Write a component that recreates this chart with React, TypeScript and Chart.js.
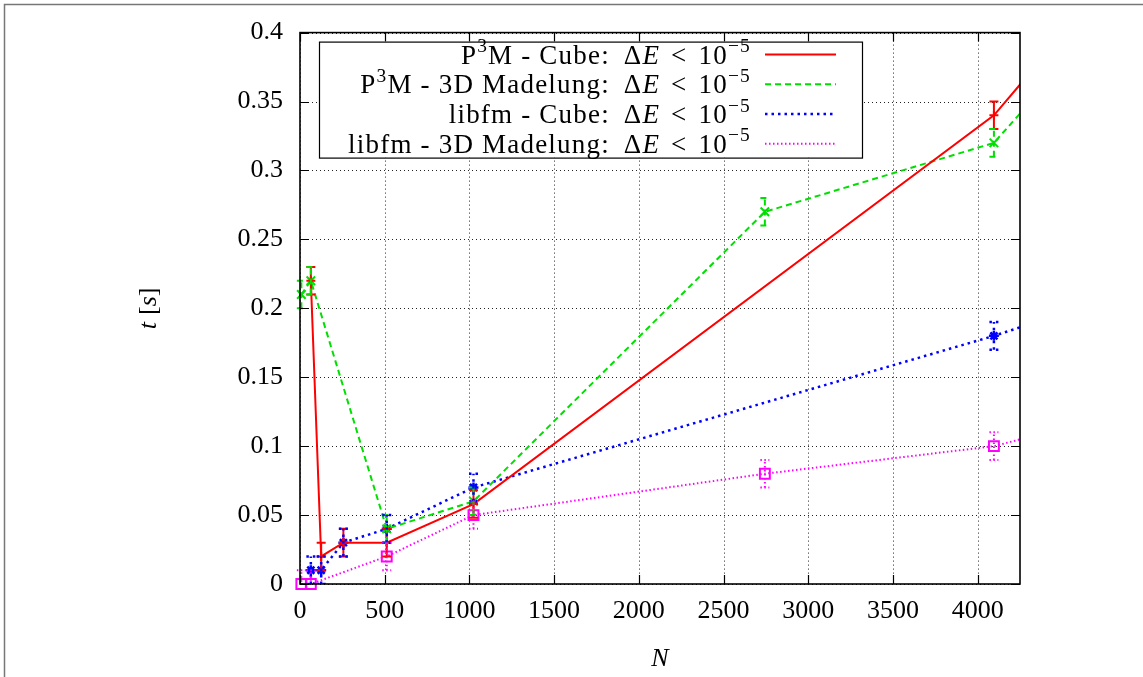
import React, { useEffect, useRef } from "react";
import { Chart, registerables } from "chart.js";

Chart.register(...registerables);

// ---- Axis ticks ----
const xTickValues = [0, 500, 1000, 1500, 2000, 2500, 3000, 3500, 4000];
const yTickValues = [0, 0.05, 0.1, 0.15, 0.2, 0.25, 0.3, 0.35, 0.4];
const yTickLabels = ["0", "0.05", "0.1", "0.15", "0.2", "0.25", "0.3", "0.35", "0.4"];

// ---- Series: P3M - Cube ----
const p3mCubeN = [64, 125, 256, 512, 1024, 4096, 4913];
const p3mCubeT = [0.22, 0.02, 0.03, 0.03, 0.058, 0.34, 0.458];
const p3mCubeErr = [0.01, 0.01, 0.01, 0.01, 0.01, 0.01, 0.01];

// ---- Series: P3M - 3D Madelung ----
const p3mMadN = [8, 64, 512, 1024, 2744, 4096, 4913];
const p3mMadT = [0.21, 0.22, 0.04, 0.06, 0.27, 0.32, 0.433];
const p3mMadErr = [0.01, 0.01, 0.01, 0.01, 0.01, 0.01, 0.01];

// ---- Series: libfm - Cube ----
const libfmCubeN = [64, 125, 256, 512, 1024, 4096, 4913];
const libfmCubeT = [0.01, 0.01, 0.03, 0.04, 0.07, 0.18, 0.213];
const libfmCubeErr = [0.01, 0.01, 0.01, 0.01, 0.01, 0.01, 0.01];

// ---- Series: libfm - 3D Madelung ----
const libfmMadN = [8, 64, 512, 1024, 2744, 4096, 4913];
const libfmMadT = [0, 0, 0.02, 0.05, 0.08, 0.1, 0.126];
const libfmMadErr = [0.01, 0.01, 0.01, 0.01, 0.01, 0.01, 0.01];

type Piece = { t: string; it?: boolean; sup?: boolean; gap?: number };

const mathTail: Piece[] = [
  { t: "", gap: 14 },
  { t: "Δ" },
  { t: "E", it: true },
  { t: "", gap: 11 },
  { t: "<" },
  { t: "", gap: 11 },
  { t: "10" },
  { t: "−5", sup: true },
];
const legendLabels: Piece[][] = [
  [{ t: "P" }, { t: "3", sup: true }, { t: "M - Cube:" }, ...mathTail],
  [{ t: "P" }, { t: "3", sup: true }, { t: "M - 3D Madelung:" }, ...mathTail],
  [{ t: "libfm - Cube:" }, ...mathTail],
  [{ t: "libfm - 3D Madelung:" }, ...mathTail],
];
const yTitle: Piece[] = [{ t: "t", it: true }, { t: "", gap: 7 }, { t: "[" }, { t: "s", it: true }, { t: "]" }];
const xTitle: Piece[] = [{ t: "N", it: true }];

const FONT = '"Liberation Serif", "DejaVu Serif", serif';
const FS = 26;
const LEGEND_FS = 27;

function setFont(ctx: CanvasRenderingContext2D, p: Piece, size: number) {
  const s = p.sup ? size * 0.72 : size;
  ctx.font = `${p.it ? "italic " : ""}${s}px ${FONT}`;
}
function pieceWidth(ctx: CanvasRenderingContext2D, p: Piece, size: number) {
  if (p.gap) return p.gap;
  setFont(ctx, p, size);
  return ctx.measureText(p.t).width;
}
function drawRich(ctx: CanvasRenderingContext2D, pieces: Piece[], x: number, yMid: number, size: number, align: "right" | "center") {
  let w = 0;
  for (const p of pieces) w += pieceWidth(ctx, p, size);
  let cx = align === "right" ? x - w : x - w / 2;
  const base = yMid + size * 0.33;
  ctx.textAlign = "left";
  ctx.textBaseline = "alphabetic";
  for (const p of pieces) {
    const pw = pieceWidth(ctx, p, size);
    if (!p.gap) {
      setFont(ctx, p, size);
      ctx.fillText(p.t, cx, p.sup ? base - size * 0.42 : base);
    }
    cx += pw;
  }
}

const seriesErrors = [p3mCubeErr, p3mMadErr, libfmCubeErr, libfmMadErr];

const framePlugin = {
  id: "gnuplotFrame",
  beforeDatasetsDraw(chart: any) {
    const { ctx, chartArea: a, scales } = chart;
    ctx.save();
    ctx.strokeStyle = "#222";
    ctx.lineWidth = 1;
    ctx.setLineDash([1, 3]);
    for (const v of xTickValues) {
      const x = Math.round(scales.x.getPixelForValue(v)) + 0.5;
      ctx.beginPath();
      ctx.moveTo(x, a.top);
      ctx.lineTo(x, a.bottom);
      ctx.stroke();
    }
    for (const v of yTickValues) {
      const y = Math.round(scales.y.getPixelForValue(v)) + 0.5;
      ctx.beginPath();
      ctx.moveTo(a.left, y);
      ctx.lineTo(a.right, y);
      ctx.stroke();
    }
    ctx.restore();
  },
  afterDatasetsDraw(chart: any) {
    const { ctx, chartArea: a, scales } = chart;
    ctx.save();
    ctx.beginPath();
    ctx.rect(a.left - 12, a.top, a.right - a.left + 12, a.bottom - a.top);
    ctx.clip();
    chart.data.datasets.forEach((ds: any, di: number) => {
      const errs = seriesErrors[di];
      ctx.strokeStyle = ds.borderColor;
      ctx.lineWidth = ds.borderWidth;
      ctx.setLineDash(ds.borderDash || []);
      ds.data.forEach((pt: any, i: number) => {
        const e = errs[i];
        const x = scales.x.getPixelForValue(pt.x);
        const y1 = scales.y.getPixelForValue(pt.y - e);
        const y2 = scales.y.getPixelForValue(pt.y + e);
        ctx.beginPath();
        ctx.moveTo(x, y1);
        ctx.lineTo(x, y2);
        ctx.moveTo(x - 4.5, y1);
        ctx.lineTo(x + 4.5, y1);
        ctx.moveTo(x - 4.5, y2);
        ctx.lineTo(x + 4.5, y2);
        ctx.stroke();
      });
    });
    ctx.restore();
  },
  afterDraw(chart: any) {
    const { ctx, chartArea: a, scales } = chart;
    ctx.save();
    ctx.strokeStyle = "#777";
    ctx.lineWidth = 1.5;
    ctx.beginPath();
    ctx.moveTo(4.5, chart.height);
    ctx.lineTo(4.5, 4.5);
    ctx.lineTo(chart.width, 4.5);
    ctx.stroke();

    ctx.strokeStyle = "#000";
    ctx.lineWidth = 1.2;
    for (const v of xTickValues) {
      const x = Math.round(scales.x.getPixelForValue(v)) + 0.5;
      ctx.beginPath();
      ctx.moveTo(x, a.bottom);
      ctx.lineTo(x, a.bottom - 9);
      ctx.moveTo(x, a.top);
      ctx.lineTo(x, a.top + 9);
      ctx.stroke();
    }
    for (const v of yTickValues) {
      const y = Math.round(scales.y.getPixelForValue(v)) + 0.5;
      ctx.beginPath();
      ctx.moveTo(a.left, y);
      ctx.lineTo(a.left + 9, y);
      ctx.moveTo(a.right, y);
      ctx.lineTo(a.right - 9, y);
      ctx.stroke();
    }
    ctx.lineWidth = 1.6;
    ctx.strokeRect(a.left, a.top, a.right - a.left, a.bottom - a.top);

    // legend
    const lx = a.left + 19;
    const ly = a.top + 9;
    const lw = 543;
    const lh = 116;
    ctx.fillStyle = "#fff";
    ctx.fillRect(lx, ly, lw, lh);
    ctx.lineWidth = 1.2;
    ctx.strokeStyle = "#000";
    ctx.strokeRect(lx + 0.5, ly + 0.5, lw, lh);
    (ctx as any).letterSpacing = "1.2px";
    chart.data.datasets.forEach((ds: any, i: number) => {
      const yMid = ly + 13 + i * 29.7;
      ctx.fillStyle = "#000";
      drawRich(ctx, legendLabels[i], lx + 432, yMid, LEGEND_FS, "right");
      ctx.strokeStyle = ds.borderColor;
      ctx.lineWidth = ds.borderWidth;
      ctx.setLineDash(ds.borderDash || []);
      ctx.beginPath();
      ctx.moveTo(lx + 446, yMid);
      ctx.lineTo(lx + 517, yMid);
      ctx.stroke();
      ctx.setLineDash([]);
    });
    (ctx as any).letterSpacing = "0px";

    ctx.fillStyle = "#000";
    drawRich(ctx, xTitle, (a.left + a.right) / 2, 657, FS, "center");
    ctx.translate(147, (a.top + a.bottom) / 2);
    ctx.rotate(-Math.PI / 2);
    drawRich(ctx, yTitle, 0, 0, FS, "center");
    ctx.restore();
  },
};

function pts(xs: number[], ys: number[]) {
  return xs.map((x, i) => ({ x, y: ys[i] }));
}

export default function App() {
  const ref = useRef<HTMLCanvasElement | null>(null);
  useEffect(() => {
    if (!ref.current) return;
    const clip = { left: 12, top: 0, right: 0, bottom: 12 };
    const chart = new Chart(ref.current, {
      type: "line",
      data: {
        datasets: [
          {
            label: "P3M - Cube",
            data: pts(p3mCubeN, p3mCubeT),
            borderColor: "#ff0000",
            backgroundColor: "#ff0000",
            borderWidth: 2,
            pointStyle: "cross",
            pointRadius: 4.5,
            pointBorderWidth: 2,
            clip,
          },
          {
            label: "P3M - 3D Madelung",
            data: pts(p3mMadN, p3mMadT),
            borderColor: "#00e000",
            backgroundColor: "#00e000",
            borderWidth: 2,
            borderDash: [6, 4],
            pointStyle: "crossRot",
            pointRadius: 6,
            pointBorderWidth: 2,
            clip,
          },
          {
            label: "libfm - Cube",
            data: pts(libfmCubeN, libfmCubeT),
            borderColor: "#0000ff",
            backgroundColor: "#0000ff",
            borderWidth: 2.5,
            borderDash: [2.5, 4],
            pointStyle: "star",
            pointRadius: 5,
            pointBorderWidth: 2.5,
            clip,
          },
          {
            label: "libfm - 3D Madelung",
            data: pts(libfmMadN, libfmMadT),
            borderColor: "#ff00ff",
            backgroundColor: "rgba(0,0,0,0)",
            borderWidth: 2,
            borderDash: [1.5, 2.5],
            pointStyle: "rect",
            pointRadius: 7,
            pointBorderWidth: 2,
            clip,
          },
        ] as any,
      },
      options: {
        animation: false,
        responsive: false,
        layout: { padding: { top: 32, right: 123, left: 0, bottom: 0 } },
        plugins: { legend: { display: false }, tooltip: { enabled: false } },
        elements: { line: { tension: 0 } },
        scales: {
          x: {
            type: "linear",
            min: 0,
            max: 4250,
            afterBuildTicks: (s: any) => {
              s.ticks = xTickValues.map((v) => ({ value: v }));
            },
            afterFit: (s: any) => {
              s.height = 93;
            },
            grid: { display: false, drawTicks: false },
            border: { display: false },
            ticks: {
              padding: 12,
              color: "#000",
              font: { family: FONT, size: FS },
              maxRotation: 0,
              autoSkip: false,
              callback: (v: any) => String(v),
            },
          },
          y: {
            type: "linear",
            min: 0,
            max: 0.4,
            afterBuildTicks: (s: any) => {
              s.ticks = yTickValues.map((v) => ({ value: v }));
            },
            afterFit: (s: any) => {
              s.width = 300;
            },
            grid: { display: false, drawTicks: false },
            border: { display: false },
            ticks: {
              padding: 17,
              color: "#000",
              font: { family: FONT, size: FS },
              autoSkip: false,
              callback: (_v: any, i: number) => yTickLabels[i],
            },
          },
        },
      } as any,
      plugins: [framePlugin],
    });
    return () => chart.destroy();
  }, []);
  return (
    <div style={{ position: "absolute", left: 0, top: 0, width: 1143, height: 677, background: "#fff" }}>
      <canvas ref={ref} width={1143} height={677} style={{ width: 1143, height: 677, display: "block" }} />
    </div>
  );
}
